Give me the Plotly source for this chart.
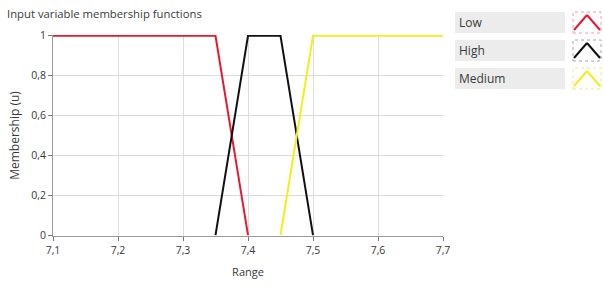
import plotly.graph_objects as go

# Data
low_x = [7.1, 7.35, 7.4]
low_y = [1, 1, 0]
high_x = [7.35, 7.4, 7.45, 7.5]
high_y = [0, 1, 1, 0]
medium_x = [7.45, 7.5, 7.7]
medium_y = [0, 1, 1]

series_names = ["Low", "High", "Medium"]
series_colors = ["#e8182f", "#111111", "#f5ee1a"]
icon_borders = ["#f0a0a8", "#a8a8a8", "#f0e890"]

x_ticks = [7.1, 7.2, 7.3, 7.4, 7.5, 7.6, 7.7]
x_tick_labels = ["7,1", "7,2", "7,3", "7,4", "7,5", "7,6", "7,7"]
y_ticks = [0, 0.2, 0.4, 0.6, 0.8, 1]
y_tick_labels = ["0", "0,2", "0,4", "0,6", "0,8", "1"]

FONT = "Open Sans"
TXT = "#3a3a3a"
fig = go.Figure()
for name, xs, ys, col in zip(series_names, [low_x, high_x, medium_x],
                             [low_y, high_y, medium_y], series_colors):
    fig.add_trace(go.Scatter(x=xs, y=ys, mode="lines", name=name,
                             line=dict(color=col, width=2), showlegend=False))

fig.update_layout(
    width=604, height=287,
    margin=dict(l=53, r=161, t=35, b=51, autoexpand=False),
    paper_bgcolor="white", plot_bgcolor="white",
    font=dict(family=FONT, size=10.5, color=TXT),
    xaxis=dict(range=[7.1, 7.7], tickvals=x_ticks, ticktext=x_tick_labels,
               showgrid=True, gridcolor="#dcdcdc", gridwidth=1,
               showline=True, linecolor="#9a9a9a", linewidth=1, mirror=False,
               ticks="outside", ticklen=4, tickcolor="#777777",
               zeroline=False, automargin=False,
               title=dict(text="Range", font=dict(size=11), standoff=12)),
    yaxis=dict(range=[-0.004, 1.004], tickvals=y_ticks, ticktext=y_tick_labels,
               showgrid=True, gridcolor="#dcdcdc", gridwidth=1,
               showline=True, linecolor="#9a9a9a", linewidth=1,
               ticks="outside", ticklen=4, tickcolor="#777777",
               zeroline=False, automargin=False,
               title=dict(text="Membership (u)", font=dict(size=12), standoff=8)),
)

fig.add_annotation(text="Input variable membership functions", xref="paper", yref="paper",
                   x=-48/390, y=1 + 21/201, xanchor="left", yanchor="middle",
                   showarrow=False, font=dict(size=11.3, color=TXT))

# Custom legend (label boxes + icons), paper coords
pw, ph = 390.0, 201.0
def px2x(px):
    return (px - 53) / pw
def py2y(py):
    return (236 - py) / ph

for i, (name, col, bcol) in enumerate(zip(series_names, series_colors, icon_borders)):
    top = 12 + i * 28
    bot = top + 21
    fig.add_shape(type="rect", xref="paper", yref="paper",
                  x0=px2x(455), x1=px2x(565), y0=py2y(bot), y1=py2y(top),
                  fillcolor="#ececec", line=dict(width=0))
    fig.add_annotation(text=name, xref="paper", yref="paper",
                       x=px2x(457), y=py2y((top + bot) / 2), xanchor="left", yanchor="middle",
                       showarrow=False, font=dict(size=12, color=TXT))
    fig.add_shape(type="rect", xref="paper", yref="paper",
                  x0=px2x(573), x1=px2x(601), y0=py2y(bot), y1=py2y(top),
                  fillcolor="white", line=dict(width=1, color=bcol, dash="dot"))
    fig.add_shape(type="line", xref="paper", yref="paper",
                  x0=px2x(574), y0=py2y(bot - 3), x1=px2x(587), y1=py2y(top + 3),
                  line=dict(color=col, width=2))
    fig.add_shape(type="line", xref="paper", yref="paper",
                  x0=px2x(587), y0=py2y(top + 3), x1=px2x(600), y1=py2y(bot - 3),
                  line=dict(color=col, width=2))

fig.write_html("out.html", config={"displayModeBar": False},
               post_script="document.body.style.margin='0';document.body.style.overflow='hidden';")
